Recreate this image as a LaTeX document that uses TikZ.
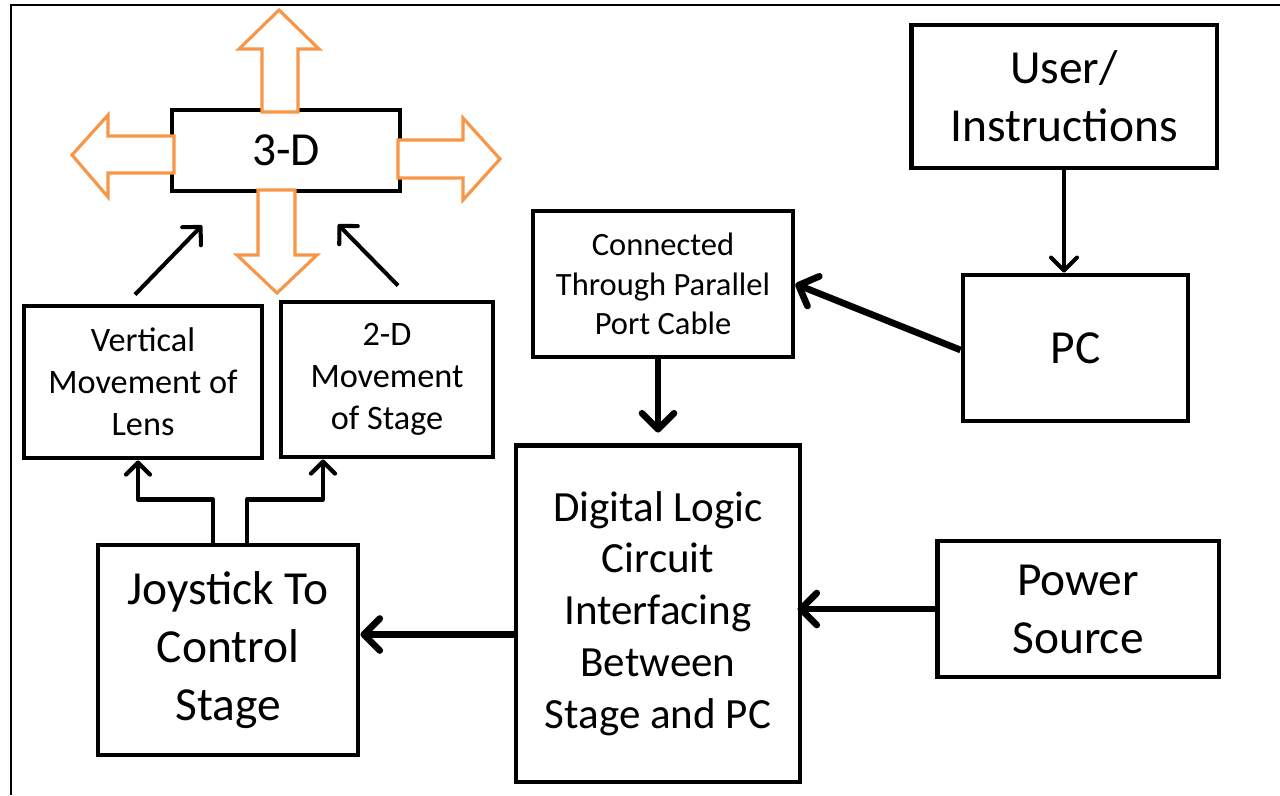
\documentclass[tikz,border=0pt]{standalone}
\usepackage{fontspec}
\setmainfont{Carlito}
\usepackage{xcolor}
\usepackage{tikz}
\usetikzlibrary{arrows.meta}

\definecolor{blockorange}{HTML}{F79646}

\tikzset{
	box/.style={draw, line width=2.8pt, align=center, inner sep=0pt},
	big/.style={font=\fontsize{27}{33}\selectfont},
	mid/.style={font=\fontsize{19.5}{24}\selectfont},
	small/.style={font=\fontsize{18.5}{22.6}\selectfont},
	thk/.style={line width=3.8pt, -{Straight Barb[round, length=3.2mm, width=6.4mm]}},
	thn/.style={line width=2.3pt, -{Straight Barb[round, length=2.6mm, width=5.2mm]}},
	elb/.style={line width=2.4pt, line join=round, -{Straight Barb[round, length=2.4mm, width=4.8mm]}},
	blk/.style={draw=blockorange, line width=1.8pt, fill=white, line join=miter}
}

\begin{document}
\begin{tikzpicture}[x=0.02cm, y=-0.02cm]
	\useasboundingbox (0,0) rectangle (1280,795);
	\draw[line width=1.2pt] (11,795) -- (11,5) -- (1280,5);

	% boxes
	\node[box, big, minimum width=4.56cm, minimum height=1.62cm] (td) at (286,150.5) {3-D};
	\node[box, mid, minimum width=4.76cm, minimum height=3.04cm] (vert) at (143,382) {Vertical\\Movement of\\Lens};
	\node[box, mid, minimum width=4.24cm, minimum height=3.10cm] (twod) at (387,379.5) {2-D\\Movement\\of Stage};
	\node[box, big, minimum width=5.20cm, minimum height=4.20cm] (joy) at (228,650) {Joystick To\\Control\\Stage};
	\node[box, font=\fontsize{24.5}{29.5}\selectfont, minimum width=5.68cm, minimum height=6.74cm] (dlc) at (658,613.5) {Digital Logic\\Circuit\\Interfacing\\Between\\Stage and PC};
	\node[box, small, minimum width=5.20cm, minimum height=2.92cm] (conn) at (663,284) {Connected\\Through Parallel\\Port Cable};
	\node[box, big, minimum width=6.12cm, minimum height=2.86cm] (user) at (1064,96.5) {User/\\Instructions};
	\node[box, big, minimum width=4.50cm, minimum height=2.92cm] (pc) at (1075.5,348) {PC};
	\node[box, big, minimum width=5.64cm, minimum height=2.72cm] (pow) at (1078,609) {Power\\Source};

	% orange block arrows round 3-D
	\draw[blk] (262,112) -- (262,49) -- (239,49) -- (279,10) -- (319,49) -- (298,49) -- (298,112) -- cycle;
	\draw[blk] (258,190) -- (258,255) -- (237,255) -- (277,293) -- (317,255) -- (295,255) -- (295,190) -- cycle;
	\draw[blk] (174,136) -- (108,136) -- (108,115) -- (72,155) -- (108,197) -- (108,173) -- (174,173) -- cycle;
	\draw[blk] (398,140) -- (463,140) -- (463,118) -- (500,159) -- (463,200) -- (463,178) -- (398,178) -- cycle;

	% connectors
	\draw[thn] (user.south) -- (user.south |- pc.north);
	\draw[thk] ([yshift=-0.04cm]pc.west) -- (conn.east);
	\draw[thk] (conn.south -| dlc.north) -- ([yshift=0.2cm]dlc.north);
	\draw[thk] (pow.west) -- ([xshift=-0.1cm]dlc.east |- pow.west);
	\draw[thk] ([yshift=-0.42cm]dlc.west) -- ([yshift=-0.42cm]dlc.west -| joy.east);
	\draw[elb] ([xshift=-0.3cm]joy.north) -- ++(0,-43) -| ([xshift=-0.1cm]vert.south);
	\draw[elb] ([xshift=0.38cm]joy.north) -- ++(0,-43) -| ([xshift=-1.28cm]twod.south);
	\draw[thn] ([xshift=-0.16cm,yshift=0.18cm]vert.north) -- ([xshift=-1.68cm,yshift=-0.64cm]td.south);
	\draw[thn] ([xshift=0.22cm,yshift=0.28cm]twod.north) -- ([xshift=1.04cm,yshift=-0.62cm]td.south);
\end{tikzpicture}
\end{document}
